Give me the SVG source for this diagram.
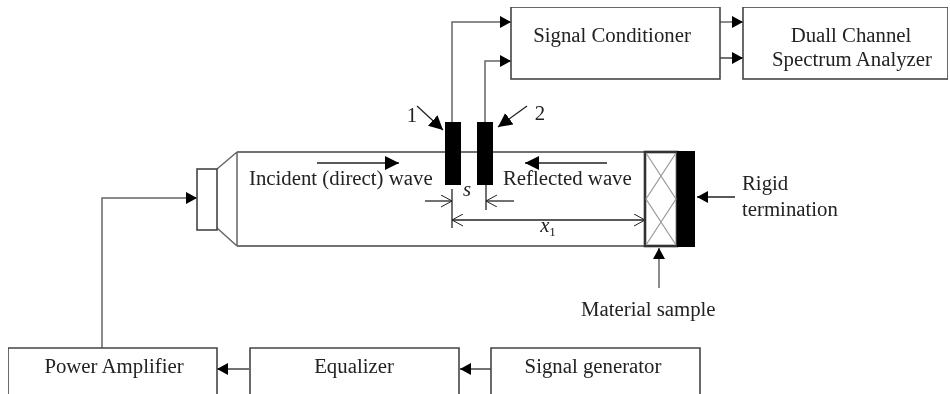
<svg xmlns="http://www.w3.org/2000/svg" width="950" height="394" viewBox="0 0 950 394">
<defs>
<marker id="ah" markerUnits="userSpaceOnUse" markerWidth="14" markerHeight="14" refX="11" refY="6" orient="auto"><path d="M0 0L11 6L0 12Z" fill="#000"/></marker>
<marker id="ah2" markerUnits="userSpaceOnUse" markerWidth="16" markerHeight="16" refX="14" refY="7" orient="auto"><path d="M0 0L14 7L0 14Z" fill="#000"/></marker>
<marker id="op" markerUnits="userSpaceOnUse" markerWidth="14" markerHeight="14" refX="11" refY="6" orient="auto"><path d="M0 0L11 6L0 12" fill="none" stroke="#222" stroke-width="1"/></marker>
<marker id="ops" markerUnits="userSpaceOnUse" markerWidth="14" markerHeight="14" refX="0" refY="6" orient="auto"><path d="M11 0L0 6L11 12" fill="none" stroke="#222" stroke-width="1"/></marker>
<filter id="soft" x="0" y="0" width="100%" height="100%"><feGaussianBlur stdDeviation="0.4"/></filter>
</defs>
<style>
text{font-family:"Liberation Serif","Times New Roman",serif;font-size:20.8px;fill:#222}
.m{text-anchor:middle}
.b{fill:#fff;stroke:#444;stroke-width:1.6}
.o{fill:none;stroke:#444;stroke-width:1.6}
.c{fill:none;stroke:#666;stroke-width:1.5}
.d{fill:none;stroke:#222;stroke-width:1.3}
.x{fill:none;stroke:#999;stroke-width:1.2}
.s{fill:#fff;stroke:#333;stroke-width:2.6}
.k{fill:#000}
</style>
<rect width="950" height="394" fill="#fff"/>
<g filter="url(#soft)">
<g id="tube">
<path class="o" d="M237 152H645M237 246H645"/>
<path class="c" d="M237 152V246M217 169L237 152M217 228L237 246"/>
</g>
<g id="speaker"><rect class="b" x="197" y="169" width="20" height="61"/></g>
<g id="connectors">
<path class="c" marker-end="url(#ah)" d="M452 122V22H511"/>
<path class="c" marker-end="url(#ah)" d="M485 122V61H511"/>
<path class="c" marker-end="url(#ah)" d="M720 22H743"/>
<path class="d" marker-end="url(#ah)" d="M720 58H743"/>
<path class="c" marker-end="url(#ah)" d="M102 348V198H197"/>
<path class="d" marker-end="url(#ah)" d="M249 369H217"/>
<path class="d" marker-end="url(#ah)" d="M491 369H460"/>
<path class="d" marker-end="url(#ah2)" d="M417 106L443 130"/>
<path class="d" marker-end="url(#ah2)" d="M527 106L498 127"/>
<path class="d" marker-end="url(#ah2)" d="M317 163H399"/>
<path class="d" marker-end="url(#ah2)" d="M607 163H525"/>
<path class="d" marker-end="url(#ah)" d="M735 197H697"/>
<path class="c" marker-end="url(#ah)" d="M659 288V248"/>
<path class="d" d="M452 189V228M486 185V210"/>
<path class="d" marker-end="url(#op)" d="M425 201H452"/>
<path class="d" marker-end="url(#op)" d="M514 201H486"/>
<path class="d" marker-start="url(#ops)" marker-end="url(#op)" d="M452 220H645"/>
</g>
<g id="sensor-1"><rect class="k" x="445" y="122" width="16" height="63"/><text x="412" y="122" class="m">1</text></g>
<g id="sensor-2"><rect class="k" x="477" y="122" width="16" height="63"/><text x="540" y="120" class="m">2</text></g>
<g id="sample">
<rect class="s" x="645" y="152" width="32" height="94"/>
<path class="x" d="M646 153L676 199L646 245M676 153L646 199L676 245"/>
<rect class="k" x="677" y="151" width="18" height="96"/>
</g>
<g id="signal-conditioner"><rect class="b" x="511" y="7" width="209" height="72"/><text x="612" y="42" class="m">Signal Conditioner</text></g>
<g id="analyzer"><rect class="b" x="743" y="7" width="205" height="72"/><text x="851" y="42" class="m">Duall Channel</text><text x="852" y="66" class="m">Spectrum Analyzer</text></g>
<g id="power-amplifier"><path class="o" d="M8 394V348H217V394"/><text x="114" y="373" class="m">Power Amplifier</text></g>
<g id="equalizer"><path class="o" d="M250 394V348H459V394"/><text x="354" y="373" class="m">Equalizer</text></g>
<g id="signal-generator"><path class="o" d="M491 394V348H700V394"/><text x="593" y="373" class="m">Signal generator</text></g>
<g id="labels">
<text x="249" y="185">Incident (direct) wave</text>
<text x="503" y="185">Reflected wave</text>
<text x="467" y="196" class="m" font-style="italic">s</text>
<text x="548" y="232" class="m" font-style="italic">x<tspan dy="4" font-size="13" font-style="normal">1</tspan></text>
<text x="742" y="190">Rigid</text>
<text x="742" y="216">termination</text>
<text x="581" y="316">Material sample</text>
</g>
</g>
</svg>
